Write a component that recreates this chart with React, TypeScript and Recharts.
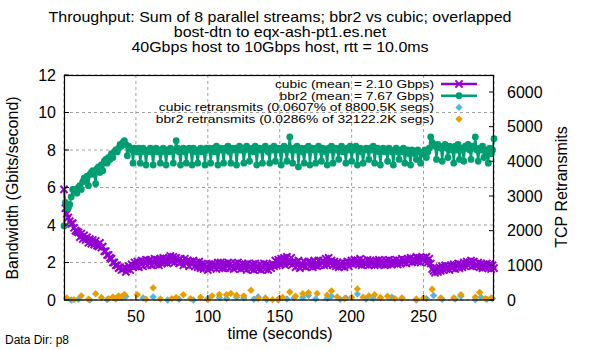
import React from "react";
import { ComposedChart, Line, Scatter, XAxis, YAxis, CartesianGrid } from "recharts";

// per-second aggregate throughput (Gbps), t = 0..299
const cubicGbps = [
  5.9, 4.9, 4.6, 4.4, 4.2, 4.05, 4.1, 3.85, 3.7, 3.65,
  3.6, 3.35, 3.55, 3.25, 3.45, 3.2, 3.35, 3.05, 3.25, 3.0,
  3.2, 2.95, 3.15, 2.9, 2.85, 3.05, 2.8, 2.85, 2.6, 2.6,
  2.4, 2.4, 2.25, 2.2, 2.0, 2.0, 1.85, 1.85, 1.7, 1.75,
  1.6, 1.65, 1.75, 1.5, 1.65, 1.8, 1.6, 1.9, 1.75, 2.0,
  1.8, 2.05, 1.75, 2.0, 2.1, 1.8, 2.05, 2.15, 1.85, 2.1,
  2.15, 1.85, 2.05, 2.2, 1.9, 2.15, 1.85, 2.2, 1.95, 2.25,
  2.0, 2.2, 1.95, 2.25, 2.35, 2.05, 2.3, 2.0, 2.25, 2.1,
  1.95, 2.2, 2.05, 1.85, 2.2, 1.95, 2.1, 1.8, 2.05, 1.9,
  2.1, 1.8, 2.0, 1.75, 2.05, 1.7, 1.95, 1.65, 1.9, 1.75,
  1.6, 1.9, 1.7, 1.95, 1.75, 1.9, 1.65, 2.0, 1.75, 2.0,
  1.7, 1.95, 1.7, 1.9, 2.0, 1.7, 1.95, 1.8, 1.65, 1.95,
  1.75, 2.0, 1.8, 1.65, 1.95, 1.7, 1.9, 1.6, 1.95, 1.75,
  1.65, 1.9, 1.6, 1.95, 1.75, 1.65, 1.9, 1.6, 1.75, 1.95,
  1.65, 1.9, 1.6, 1.85, 1.7, 1.95, 1.8, 2.1, 1.85, 2.15,
  1.9, 2.2, 1.95, 2.25, 1.85, 2.3, 2.0, 1.95, 2.25, 1.9,
  2.05, 1.75, 2.0, 2.1, 1.7, 1.95, 1.8, 2.05, 1.75, 1.95,
  2.05, 1.8, 2.0, 1.75, 2.1, 1.85, 1.8, 2.1, 1.85, 2.0,
  2.1, 1.85, 2.2, 1.9, 2.25, 1.95, 2.1, 1.85, 2.05, 1.8,
  2.0, 1.75, 1.95, 1.8, 2.0, 1.75, 1.95, 2.05, 1.8, 2.0,
  2.1, 1.9, 2.15, 1.95, 2.1, 1.9, 2.2, 1.85, 2.1, 1.95,
  1.9, 2.15, 1.85, 2.1, 1.9, 2.05, 1.85, 2.1, 1.9, 2.15,
  1.9, 2.1, 1.95, 1.85, 2.1, 1.9, 2.15, 1.95, 1.9, 2.1,
  1.95, 2.15, 1.9, 2.1, 1.95, 2.2, 2.0, 2.15, 1.95, 2.2,
  2.05, 2.25, 2.0, 2.2, 2.05, 2.3, 2.05, 2.25, 2.0, 2.2,
  2.25, 2.05, 2.3, 2.0, 2.2, 1.95, 1.65, 1.55, 1.45, 1.7,
  1.5, 1.75, 1.55, 1.8, 1.6, 1.85, 1.65, 1.8, 1.6, 1.85,
  1.7, 1.9, 1.65, 1.85, 1.95, 1.7, 1.9, 1.75, 2.0, 1.8,
  2.05, 1.85, 2.0, 2.1, 1.8, 2.05, 1.85, 1.8, 2.0, 1.75,
  1.95, 1.7, 1.9, 1.75, 1.95, 1.7, 1.9, 1.65, 1.85, 1.7,
];

const bbr2Gbps = [
  3.95, 5.2, 5.0, 4.9, 5.1, 5.5, 5.9, 5.8, 5.9, 5.7,
  6.0, 6.1, 5.9, 6.3, 6.5, 6.4, 6.6, 6.1, 6.7, 6.8,
  6.9, 6.7, 6.2, 7.0, 7.1, 6.8, 7.2, 6.9, 7.4, 7.5,
  7.3, 7.6, 7.5, 7.8, 7.6, 7.9, 8.0, 7.9, 8.1, 8.3,
  8.2, 8.4, 8.5, 8.3, 7.7, 8.2, 8.1, 8.0, 7.3, 8.1,
  8.0, 7.9, 8.1, 7.3, 7.9, 8.1, 8.0, 7.2, 7.9, 8.0,
  8.1, 7.9, 7.2, 8.0, 8.1, 7.9, 8.0, 7.3, 7.9, 8.1,
  8.0, 7.2, 8.0, 7.9, 8.1, 8.0, 7.3, 8.0, 8.5, 8.1,
  7.9, 7.2, 8.0, 8.1, 7.9, 7.3, 8.0, 8.1, 8.0, 7.2,
  8.1, 8.0, 7.9, 7.3, 8.0, 8.1, 7.9, 8.0, 7.2, 8.1,
  8.0, 8.1, 7.3, 8.0, 8.1, 7.9, 8.2, 7.2, 8.0, 8.1,
  8.0, 7.3, 8.1, 8.0, 8.2, 7.9, 7.3, 8.1, 8.0, 8.1,
  7.2, 8.0, 8.2, 8.0, 8.1, 7.3, 8.0, 8.2, 8.1, 7.4,
  8.0, 8.1, 7.9, 8.2, 7.2, 8.0, 8.1, 8.0, 7.3, 8.1,
  8.2, 8.0, 7.9, 7.3, 8.1, 8.0, 8.2, 7.4, 8.0, 8.1,
  8.0, 7.2, 8.1, 8.2, 8.0, 7.4, 8.1, 8.7, 8.0, 7.3,
  8.1, 8.0, 8.2, 7.1, 8.0, 8.1, 7.9, 7.3, 8.1, 8.0,
  8.2, 7.2, 8.0, 8.1, 8.0, 7.3, 8.1, 8.2, 8.0, 7.4,
  8.1, 8.0, 7.9, 7.2, 8.1, 8.0, 8.2, 7.3, 8.0, 8.1,
  8.0, 7.5, 8.1, 8.2, 7.9, 8.0, 7.3, 8.1, 8.0, 8.2,
  7.4, 8.0, 8.1, 8.2, 7.2, 8.0, 8.1, 7.9, 7.3, 8.0,
  8.1, 8.0, 7.5, 8.1, 8.0, 8.2, 7.3, 8.0, 8.1, 7.9,
  7.2, 8.0, 8.1, 7.9, 8.0, 7.4, 8.1, 8.0, 7.9, 7.2,
  8.0, 8.1, 7.9, 7.5, 8.0, 7.9, 8.1, 7.3, 7.9, 8.0,
  7.8, 7.2, 8.0, 7.9, 7.8, 7.5, 8.0, 7.9, 7.3, 7.8,
  7.9, 8.0, 7.6, 7.9, 8.1, 8.7, 8.4, 8.3, 8.2, 7.5,
  8.3, 8.2, 8.1, 7.4, 8.2, 8.3, 8.1, 7.6, 8.2, 8.0,
  8.1, 7.3, 8.2, 8.0, 8.3, 7.5, 8.1, 8.0, 7.4, 8.2,
  8.1, 8.3, 8.0, 7.5, 8.2, 8.1, 8.7, 8.0, 7.4, 8.1,
  8.0, 8.2, 7.6, 8.0, 7.9, 7.3, 8.1, 7.8, 8.0, 8.6,
];

// retransmits (segments) at the seconds they happened
const cubicRetransTimes = [5, 10, 18, 30, 36, 40, 43, 55, 62, 72, 80, 90, 100, 108, 113, 120, 125, 132, 135, 141, 149, 155, 160, 166, 170, 175, 183, 186, 192, 196, 204, 210, 215, 220, 228, 235, 245, 252, 257, 263, 272, 276, 286, 290, 294, 298];
const cubicRetransSegs = [0, 20, 0, 10, 40, 60, 100, 60, 90, 0, 20, 0, 40, 70, 40, 80, 60, 20, 90, 10, 0, 30, 60, 70, 130, 30, 50, 110, 20, 60, 170, 30, 40, 60, 80, 50, 0, 40, 130, 20, 30, 110, 10, 80, 20, 40];

const bbr2RetransTimes = [2, 7, 12, 17, 22, 26, 31, 34, 36, 38, 40, 42, 51, 57, 62, 67, 75, 78, 83, 88, 95, 100, 103, 108, 113, 116, 120, 125, 130, 135, 140, 145, 149, 152, 157, 161, 166, 170, 176, 183, 186, 190, 195, 200, 204, 208, 212, 216, 220, 225, 230, 235, 245, 250, 256, 262, 271, 276, 286, 289, 293, 297];
const bbr2RetransSegs = [60, 10, 120, 20, 180, 70, 40, 90, 30, 120, 90, 160, 150, 20, 350, 30, 40, 70, 150, 40, 80, 10, 120, 160, 150, 190, 140, 120, 280, 40, 60, 10, 20, 70, 230, 110, 180, 210, 190, 140, 260, 90, 40, 80, 320, 80, 120, 150, 70, 110, 40, 60, 30, 60, 310, 60, 60, 150, 80, 220, 40, 60];

const xTicks = [50, 100, 150, 200, 250];
const gbpsTicks = [0, 2, 4, 6, 8, 10, 12];
const segTicks = [0, 1000, 2000, 3000, 4000, 5000, 6000];

const titleLines = [
  "Throughput: Sum of 8 parallel streams; bbr2 vs cubic; overlapped",
  "bost-dtn to eqx-ash-pt1.es.net",
  "40Gbps host to 10Gbps host, rtt = 10.0ms",
];
const legendLabels = [
  "cubic (mean = 2.10 Gbps)",
  "bbr2 (mean = 7.67 Gbps)",
  "cubic retransmits (0.0607% of 8800.5K segs)",
  "bbr2 retransmits (0.0286% of 32122.2K segs)",
];

const PURPLE = "#9400d3";
const GREEN = "#009e73";
const BLUE = "#56b4e9";
const ORANGE = "#e69f00";
const FONT = '"Liberation Sans", Arial, sans-serif';

const L = 64;
const R = 494;
const B = 300;

const throughput = cubicGbps.map((v, i) => ({ t: i, cubic: v, bbr2: bbr2Gbps[i] }));
const cubicRetrans = cubicRetransTimes.map((t, i) => ({ t, segs: cubicRetransSegs[i] }));
const bbr2Retrans = bbr2RetransTimes.map((t, i) => ({ t, segs: bbr2RetransSegs[i] }));

function Cross({ cx, cy }: { cx: number; cy: number }) {
  const s = 3.6;
  return (
    <path
      d={`M${cx - s},${cy - s}L${cx + s},${cy + s}M${cx - s},${cy + s}L${cx + s},${cy - s}`}
      stroke={PURPLE}
      strokeWidth={2}
      fill="none"
    />
  );
}

function Diamond({ cx, cy, fill }: { cx: number; cy: number; fill: string }) {
  const s = 3.7;
  return <path d={`M${cx},${cy - s}L${cx + s},${cy}L${cx},${cy + s}L${cx - s},${cy}Z`} fill={fill} />;
}

function diamondShape(color: string) {
  return (p: any) => {
    const cx = p.cx ?? p.x + (p.width || 0) / 2;
    const cy = p.cy ?? p.y + (p.height || 0) / 2;
    return <Diamond cx={cx} cy={cy} fill={color} />;
  };
}

function LeftTick(p: any) {
  return (
    <g>
      <line x1={L} x2={L + 5} y1={p.y} y2={p.y} stroke="#000" />
      <text x={p.x} y={p.y + 5.7} textAnchor="end" fontSize={16} fontFamily={FONT} fill="#000">
        {p.payload.value}
      </text>
    </g>
  );
}

function RightTick(p: any) {
  return (
    <g>
      <line x1={R - 5} x2={R} y1={p.y} y2={p.y} stroke="#000" />
      <text x={p.x} y={p.y + 5.7} textAnchor="start" fontSize={16} fontFamily={FONT} fill="#000">
        {p.payload.value}
      </text>
    </g>
  );
}

function BottomTick(p: any) {
  return (
    <g>
      <line x1={p.x} x2={p.x} y1={B} y2={B - 5} stroke="#000" />
      <text x={p.x} y={p.y + 14} textAnchor="middle" fontSize={16} fontFamily={FONT} fill="#000">
        {p.payload.value}
      </text>
    </g>
  );
}

export default function App() {
  const legendBase = [87.8, 99.5, 111.2, 122.9];
  return (
    <div style={{ position: "absolute", left: 0, top: 0, width: 600, height: 350, background: "#fff" }}>
      <ComposedChart
        width={600}
        height={350}
        data={throughput}
        margin={{ top: 75, right: 36, bottom: 20, left: 14 }}
      >
        <CartesianGrid yAxisId="left" stroke="#a0a0a0" strokeDasharray="3 3" />
        <XAxis
          type="number"
          dataKey="t"
          domain={[0, 299]}
          ticks={xTicks}
          axisLine={false}
          tickLine={false}
          tickSize={0}
          tickMargin={8}
          height={30}
          tick={BottomTick}
        />
        <YAxis
          yAxisId="left"
          domain={[0, 12]}
          ticks={gbpsTicks}
          axisLine={false}
          tickLine={false}
          tickSize={0}
          tickMargin={8}
          width={50}
          tick={LeftTick}
        />
        <YAxis
          yAxisId="right"
          orientation="right"
          dataKey="segs"
          domain={[0, 6490]}
          ticks={segTicks}
          axisLine={false}
          tickLine={false}
          tickSize={0}
          tickMargin={13}
          width={70}
          tick={RightTick}
        />
        <Line
          yAxisId="left"
          dataKey="cubic"
          stroke={PURPLE}
          strokeWidth={2}
          isAnimationActive={false}
          activeDot={false}
          dot={(p: any) => <Cross key={`c${p.index}`} cx={p.cx} cy={p.cy} />}
        />
        <Line
          yAxisId="left"
          dataKey="bbr2"
          stroke={GREEN}
          strokeWidth={2}
          isAnimationActive={false}
          activeDot={false}
          dot={(p: any) => <circle key={`b${p.index}`} cx={p.cx} cy={p.cy} r={3.4} fill={GREEN} />}
        />
        <Scatter
          yAxisId="right"
          data={cubicRetrans}
          dataKey="segs"
          isAnimationActive={false}
          shape={diamondShape(BLUE)}
        />
        <Scatter
          yAxisId="right"
          data={bbr2Retrans}
          dataKey="segs"
          isAnimationActive={false}
          shape={diamondShape(ORANGE)}
        />
      </ComposedChart>
      <svg
        width={600}
        height={350}
        style={{ position: "absolute", left: 0, top: 0, pointerEvents: "none" }}
        fontFamily={FONT}
      >
        <rect x={64.5} y={75.5} width={429} height={224.5} fill="none" stroke="#000" strokeWidth={1.2} />
        {titleLines.map((s, i) => (
          <text
            key={s}
            transform={`translate(280,${21.7 + i * 15}) scale(1,0.92)`}
            textAnchor="middle"
            fontSize={16}
            fill="#000"
          >
            {s}
          </text>
        ))}
        <text transform="translate(17.5,188) rotate(-90)" textAnchor="middle" fontSize={16} fill="#000">
          Bandwidth (Gbits/second)
        </text>
        <text transform="translate(567,187) rotate(-90)" textAnchor="middle" fontSize={16} fill="#000">
          TCP Retransmits
        </text>
        <text x={280} y={339} textAnchor="middle" fontSize={16} fill="#000">
          time (seconds)
        </text>
        <text x={5} y={344} fontSize={12} fill="#000">
          Data Dir: p8
        </text>
        {legendLabels.map((s, i) => (
          <text
            key={s}
            transform={`translate(434,${legendBase[i]}) scale(1,0.82)`}
            textAnchor="end"
            fontSize={13.8}
            fill="#000"
          >
            {s}
          </text>
        ))}
        <line x1={441} x2={477} y1={legendBase[0] - 3.8} y2={legendBase[0] - 3.8} stroke={PURPLE} strokeWidth={2.5} />
        <Cross cx={459} cy={legendBase[0] - 3.8} />
        <line x1={441} x2={477} y1={legendBase[1] - 3.8} y2={legendBase[1] - 3.8} stroke={GREEN} strokeWidth={2.5} />
        <circle cx={459} cy={legendBase[1] - 3.8} r={3.4} fill={GREEN} />
        <Diamond cx={459} cy={legendBase[2] - 3.8} fill={BLUE} />
        <Diamond cx={459} cy={legendBase[3] - 3.8} fill={ORANGE} />
      </svg>
    </div>
  );
}
